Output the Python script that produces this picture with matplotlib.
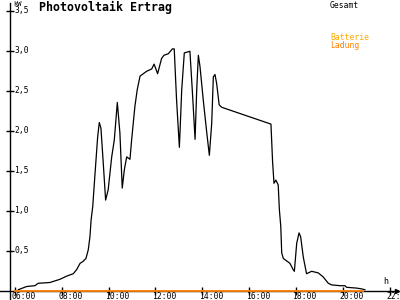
import matplotlib
matplotlib.use("Agg")
import matplotlib.pyplot as plt

# Gesamt (kW) over the day, hours as decimal
stunden = [6.14, 6.50, 6.85, 6.99, 7.49, 7.92, 8.21, 8.49, 8.63, 8.78, 8.89, 9.03,
           9.13, 9.20, 9.25, 9.32, 9.42, 9.53, 9.60, 9.67, 9.77, 9.87, 9.98, 10.13,
           10.24, 10.37, 10.48, 10.58, 10.67, 10.77, 10.91, 10.98, 11.12, 11.22, 11.34, 11.62,
           11.84, 11.94, 12.09, 12.26, 12.36, 12.55, 12.72, 12.80, 12.90, 13.02, 13.12, 13.23,
           13.47, 13.57, 13.69, 13.76, 13.83, 13.90, 14.04, 14.19, 14.30, 14.40, 14.47, 14.54,
           14.61, 14.72, 14.83, 16.93, 16.96, 17.00, 17.06, 17.14, 17.24, 17.29, 17.35, 17.39,
           17.46, 17.74, 17.88, 17.93, 18.03, 18.13, 18.20, 18.31, 18.45, 18.67, 18.95, 19.16,
           19.38, 19.52, 19.88, 20.09, 20.16, 20.59, 20.80, 20.94]
gesamt = [0.01, 0.05, 0.06, 0.09, 0.10, 0.14, 0.18, 0.21, 0.26, 0.34, 0.36, 0.40,
          0.51, 0.67, 0.88, 1.05, 1.47, 1.92, 2.10, 2.03, 1.59, 1.13, 1.26, 1.67,
          1.88, 2.35, 1.97, 1.28, 1.51, 1.67, 1.64, 1.88, 2.30, 2.51, 2.68, 2.74,
          2.77, 2.83, 2.71, 2.90, 2.94, 2.96, 3.02, 3.02, 2.38, 1.79, 2.51, 2.97,
          2.99, 2.51, 1.89, 2.51, 2.94, 2.80, 2.38, 1.97, 1.69, 2.09, 2.67, 2.70,
          2.59, 2.32, 2.29, 2.08, 1.88, 1.61, 1.34, 1.38, 1.32, 1.01, 0.80, 0.47,
          0.40, 0.34, 0.26, 0.24, 0.59, 0.72, 0.67, 0.42, 0.21, 0.24, 0.22, 0.17,
          0.09, 0.07, 0.06, 0.06, 0.04, 0.03, 0.02, 0.01]

# Batterie Ladung stays at zero
ladung_stunden = [6.0, 20.86]
ladung = [0.0, 0.0]

x_ticks = [6, 8, 10, 12, 14, 16, 18, 20, 22]
x_labels = ["06:00", "08:00", "10:00", "12:00", "14:00", "16:00", "18:00", "20:00", "22:00"]
y_ticks = [0.5, 1.0, 1.5, 2.0, 2.5, 3.0, 3.5]
y_labels = ["0,5", "1,0", "1,5", "2,0", "2,5", "3,0", "3,5"]

mono = "DejaVu Sans Mono"
orange = "#ff8000"
gelb = "#ffaa00"

fig = plt.figure(figsize=(4, 3), dpi=100)
fig.patch.set_facecolor("white")
ax = fig.add_axes([10 / 400, 9.5 / 300, 386.7 / 400, 288 / 300])
ax.set_xlim(5.787, 22.3)
ax.set_ylim(0, 3.6)

ax.plot(stunden, gesamt, color="black", lw=0.9)
ax.plot(ladung_stunden, ladung, color=orange, lw=1.3, clip_on=False, zorder=3)

# axis lines cross at the origin and run past it a little
for s in ["top", "right", "left", "bottom"]:
    ax.spines[s].set_visible(False)
ax.plot([0, 0], [-0.04, 1], color="black", lw=1, transform=ax.transAxes, clip_on=False)
ax.plot([-0.03, 1], [0, 0], color="black", lw=1, transform=ax.transAxes, clip_on=False)
ax.plot(1, 0, ">k", ms=3, transform=ax.get_yaxis_transform(), clip_on=False)
ax.plot(0, 1, "^k", ms=3, transform=ax.get_xaxis_transform(), clip_on=False)

ax.set_xticks(x_ticks)
ax.set_xticklabels([])
ax.set_yticks(y_ticks)
ax.set_yticklabels([])
ax.tick_params(direction="inout", length=6, width=1)

for t, lab in zip(x_ticks, x_labels):
    ax.annotate(lab, (t, 0), xytext=(-2.5, -4.5), textcoords="offset points",
                ha="left", va="center", fontsize=5.8, family=mono, annotation_clip=False)
for t, lab in zip(y_ticks, y_labels):
    ax.annotate(lab, (5.787, t), xytext=(3, 0), textcoords="offset points",
                ha="left", va="center", fontsize=5.8, family=mono, annotation_clip=False)

fig.text(13 / 400, 1 - 4.5 / 300, "kW", fontsize=5, family=mono, va="center", ha="left")
fig.text(383 / 400, 1 - 282 / 300, "h", fontsize=6, family=mono, va="center", ha="left")
fig.text(39 / 400, 1 - 7 / 300, "Photovoltaik Ertrag", fontsize=8.4, family=mono,
         weight="bold", va="center", ha="left")
fig.text(330 / 400, 1 - 5 / 300, "Gesamt", fontsize=5.8, family=mono, va="center", ha="left")
fig.text(330 / 400, 1 - 37 / 300, "Batterie", fontsize=5.8, family=mono, color=gelb,
         va="center", ha="left")
fig.text(330 / 400, 1 - 45 / 300, "Ladung", fontsize=5.8, family=mono, color=orange,
         va="center", ha="left")

fig.savefig("out.png", dpi=100)
